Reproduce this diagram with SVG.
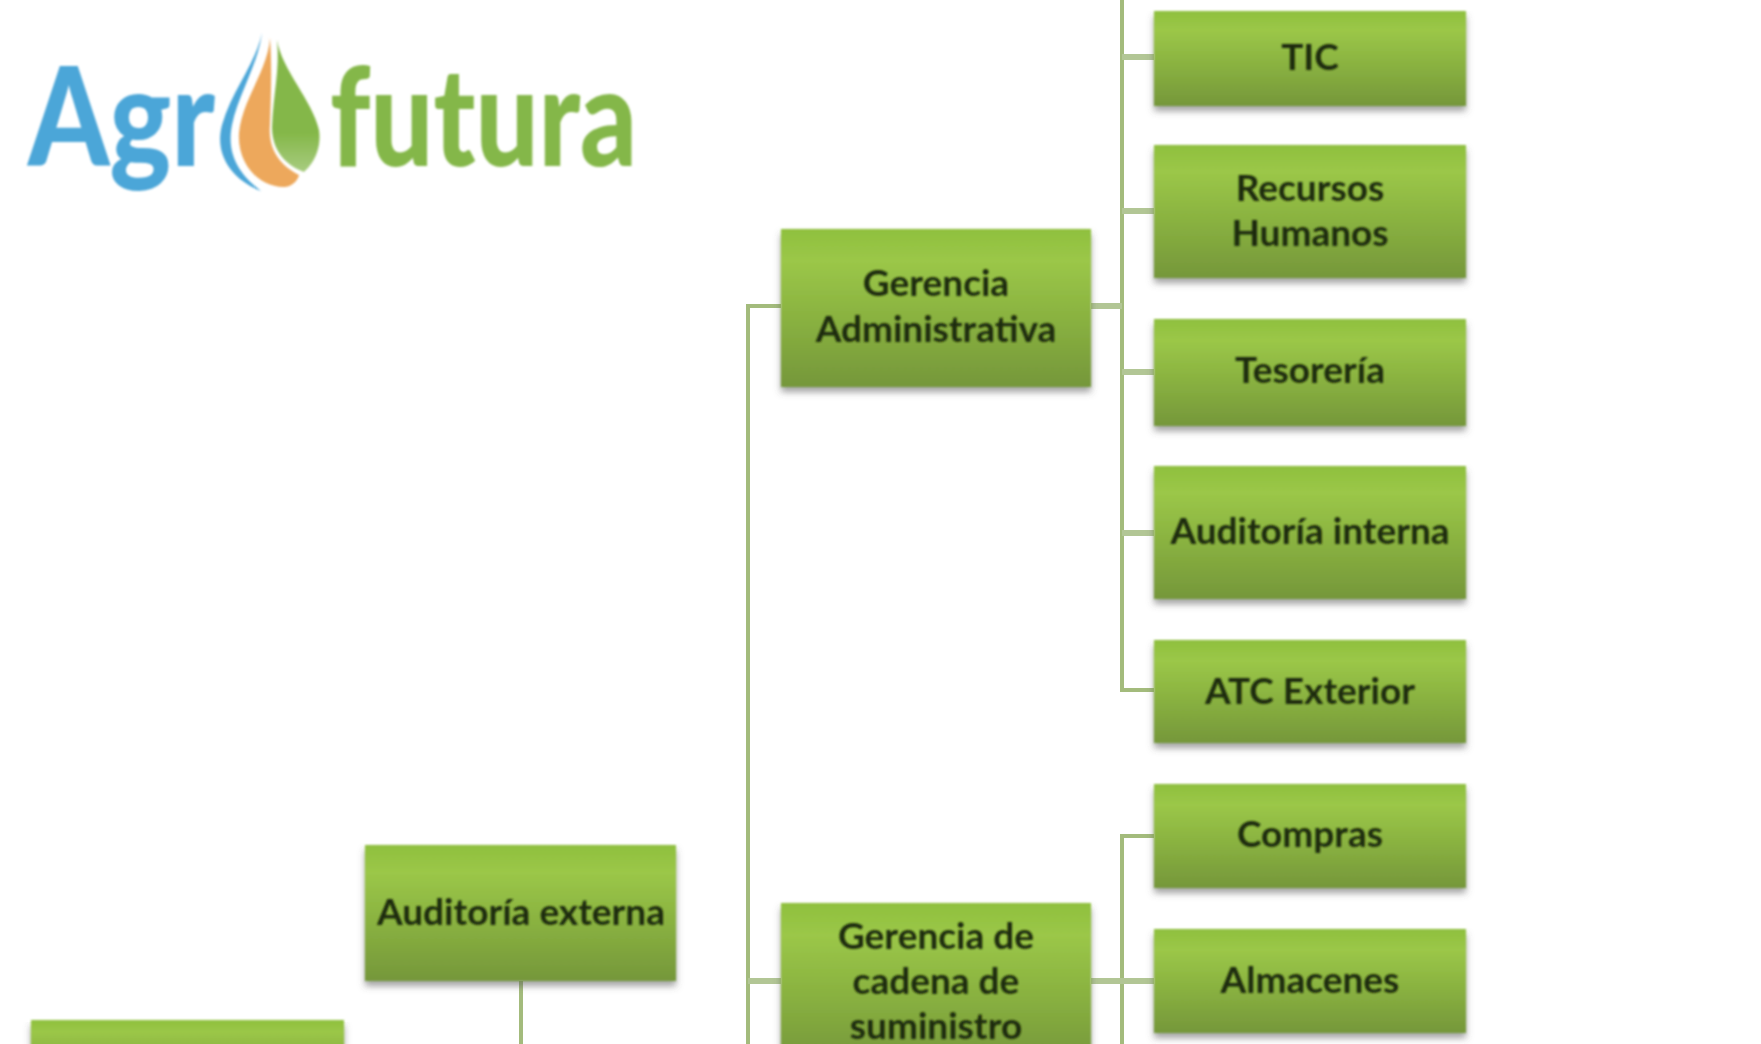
<svg xmlns="http://www.w3.org/2000/svg" width="1761" height="1044" viewBox="0 0 1761 1044">
<style>
.box{fill:url(#g);filter:url(#s)}
.l{font:700 37px Lato,"Liberation Sans",sans-serif;fill:#1c2a08;text-anchor:middle;filter:url(#b)}
.c{fill:none;stroke:#a3bb7c;stroke-width:4}
.t{fill:none;stroke:#b2c695;stroke-width:6}
.logo{font-family:Lato,"Liberation Sans",sans-serif;font-weight:900;font-size:138px;filter:url(#b)}
</style>
<defs>
<linearGradient id="g" x1="0" y1="0" x2="0" y2="1"><stop offset="0" stop-color="#8fc03e"/><stop offset=".2" stop-color="#9bc748"/><stop offset=".6" stop-color="#88b040"/><stop offset="1" stop-color="#75973a"/></linearGradient>
<linearGradient id="lf" x1="0" y1="0" x2="0" y2="1"><stop offset="0" stop-color="#84b748"/><stop offset=".7" stop-color="#84b748"/><stop offset="1" stop-color="#a8cc80"/></linearGradient>
<filter id="s" x="-5%" y="-5%" width="110%" height="120%"><feGaussianBlur in="SourceAlpha" stdDeviation="3.5" result="a"/><feOffset in="a" dy="5" result="o"/><feFlood flood-color="#555" flood-opacity=".55"/><feComposite in2="o" operator="in" result="h"/><feGaussianBlur in="SourceGraphic" stdDeviation="1" result="m"/><feMerge><feMergeNode in="h"/><feMergeNode in="m"/></feMerge></filter>
<filter id="b"><feGaussianBlur stdDeviation="1"/></filter>
</defs>
<g id="connectors">
<path class="c" d="M1122 0V690H1154M781 306H748V1044M1154 836H1122V1044M521 981V1044"/>
<path class="t" d="M1154 57H1122M1154 211H1122M1154 372H1122M1154 533H1122M1091 306H1122M781 981H748M1091 981H1154"/>
</g>
<g id="logo">
<text class="logo" x="28" y="166" fill="#4ba6d8" textLength="187" lengthAdjust="spacingAndGlyphs">Agr</text>
<text class="logo" x="330" y="166" fill="#84b748" textLength="307" lengthAdjust="spacingAndGlyphs">futura</text>
<path filter="url(#b)" fill="#4ba6d8" d="M262 33C255 65 232 90 222 125C214 155 232 180 261 191C240 175 226 155 232 125C238 95 258 65 262 33Z"/>
<path filter="url(#b)" fill="#eda85c" d="M270 38C268 70 242 100 239 133C237 165 260 188 285 187C293 186 298 180 299 175C280 165 268 150 270 125C271 95 272 65 270 38Z"/>
<path filter="url(#b)" fill="url(#lf)" d="M277 40C282 70 312 100 319 130C322 150 312 165 304 172C285 165 272 150 272 127C273 95 280 70 277 40Z"/>
</g>
<g id="tic"><rect class="box" x="1154" y="11" width="312" height="95"/><text class="l" x="1310" y="70">TIC</text></g>
<g id="rrhh"><rect class="box" x="1154" y="145" width="312" height="133"/><text class="l" x="1310" y="201">Recursos</text><text class="l" x="1310" y="246">Humanos</text></g>
<g id="tesoreria"><rect class="box" x="1154" y="319" width="312" height="107"/><text class="l" x="1310" y="383">Tesorería</text></g>
<g id="auditoria-interna"><rect class="box" x="1154" y="466" width="312" height="133"/><text class="l" x="1310" y="544">Auditoría interna</text></g>
<g id="atc"><rect class="box" x="1154" y="640" width="312" height="103"/><text class="l" x="1310" y="704">ATC Exterior</text></g>
<g id="compras"><rect class="box" x="1154" y="784" width="312" height="104"/><text class="l" x="1310" y="847">Compras</text></g>
<g id="almacenes"><rect class="box" x="1154" y="929" width="312" height="104"/><text class="l" x="1310" y="993">Almacenes</text></g>
<g id="gerencia-adm"><rect class="box" x="781" y="229" width="310" height="158"/><text class="l" x="936" y="296">Gerencia</text><text class="l" x="936" y="342">Administrativa</text></g>
<g id="gerencia-cadena"><rect class="box" x="781" y="903" width="310" height="160"/><text class="l" x="936" y="949">Gerencia de</text><text class="l" x="936" y="994">cadena de</text><text class="l" x="936" y="1039">suministro</text></g>
<g id="auditoria-externa"><rect class="box" x="365" y="845" width="311" height="136"/><text class="l" x="521" y="925">Auditoría externa</text></g>
<g id="bottom-left"><rect class="box" x="31" y="1020" width="313" height="60"/></g>
</svg>
